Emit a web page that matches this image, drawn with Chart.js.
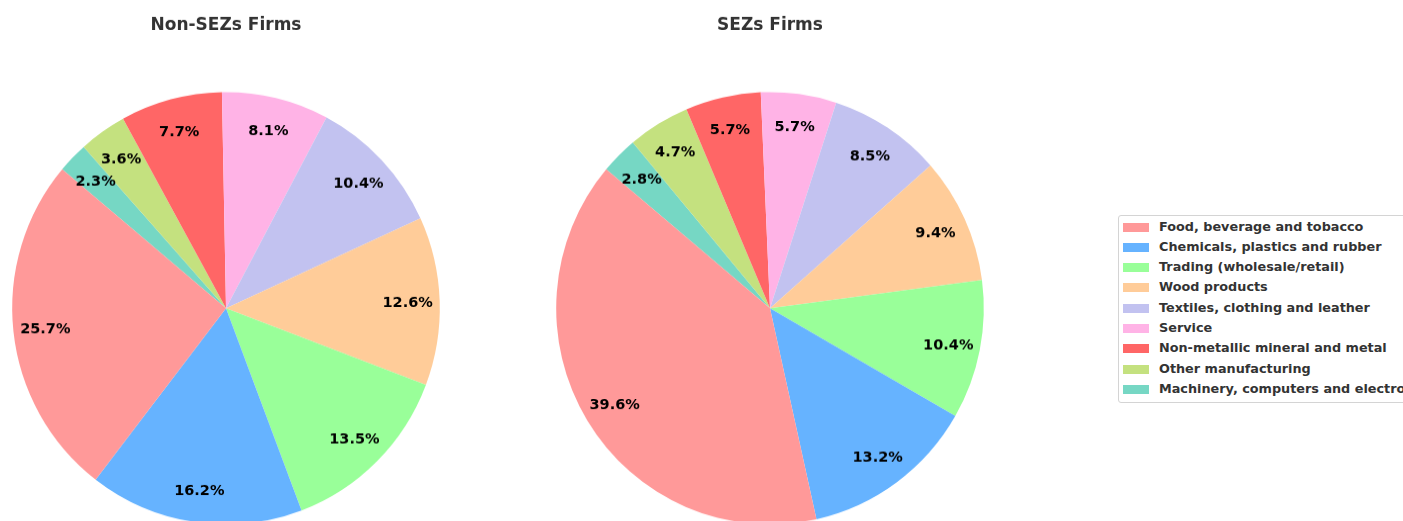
<!DOCTYPE html>
<html>
<head>
<meta charset="utf-8">
<script src="https://cdn.jsdelivr.net/npm/chart.js@4"></script>
<style>
  body { margin: 0; background: #fff; }
  #page { position: relative; width: 1403px; height: 521px; overflow: hidden; font-family: "DejaVu Sans", sans-serif; }
  /* the reference pies are a touch taller than wide, so stretch a little around the centre */
  .pie { position: absolute; top: 0; width: 452px; height: 522px; transform: scaleY(1.011); transform-origin: 50% 308px; }
  #legend {
    position: absolute; left: 1118px; top: 215px; width: 300px;
    border: 1px solid #d4d4d4; border-radius: 3px; padding: 0.5px 0 2.5px 0;
    font-weight: bold; font-size: 12.8px; color: #333;
  }
  .item { height: 20.3px; line-height: 20.3px; white-space: nowrap; }
  .swatch { display: inline-block; width: 26px; height: 9px; margin: 0 10px 0 4px; vertical-align: -1px; }
</style>
</head>
<body>
<div id="page">
  <div class="pie" style="left:0px"><canvas id="nonSezChart"></canvas></div>
  <div class="pie" style="left:544px"><canvas id="sezChart"></canvas></div>
  <div id="legend"></div>
</div>
<script>
// Sectors, in legend order
const categories = [
    "Food, beverage and tobacco",
    "Chemicals, plastics and rubber",
    "Trading (wholesale/retail)",
    "Wood products",
    "Textiles, clothing and leather",
    "Service",
    "Non-metallic mineral and metal",
    "Other manufacturing",
    "Machinery, computers and electronics"
];
// Share of firms in each sector (%)
const nonSezShares = [25.7, 16.2, 13.5, 12.6, 10.4, 8.1, 7.7, 3.6, 2.3];
const sezShares = [39.6, 13.2, 10.4, 9.4, 8.5, 5.7, 5.7, 4.7, 2.8];
const colors = ["#ff9999", "#66b3ff", "#99ff99", "#ffcc99", "#c2c2f0", "#ffb3e6", "#ff6666", "#c4e17f", "#76d7c4"];

// Percent labels drawn inside each slice
const pctLabels = {
    id: "pctLabels",
    afterDatasetsDraw(chart) {
        const ctx = chart.ctx;
        const meta = chart.getDatasetMeta(0);
        const values = chart.data.datasets[0].data;
        ctx.save();
        ctx.fillStyle = "#000";
        ctx.font = "bold 14.5px 'DejaVu Sans'";
        ctx.textAlign = "center";
        ctx.textBaseline = "middle";
        meta.data.forEach(function(arc, i) {
            const p = arc.getProps(["x", "y", "startAngle", "endAngle", "outerRadius"], true);
            const mid = (p.startAngle + p.endAngle) / 2;
            const r = p.outerRadius * 0.85;
            ctx.fillText(values[i].toFixed(1) + "%", p.x + Math.cos(mid) * r, p.y + Math.sin(mid) * r + 1.5);
        });
        ctx.restore();
    }
};

// Chart.js draws clockwise, so feed the slices in reverse to get the counter-clockwise order
function makePie(id, title, shares) {
    const ctx = document.getElementById(id).getContext("2d");
    new Chart(ctx, {
        type: "pie",
        data: {
            labels: categories.slice().reverse(),
            datasets: [{
                data: shares.slice().reverse(),
                backgroundColor: colors.slice().reverse(),
                borderWidth: 0
            }]
        },
        options: {
            responsive: true,
            maintainAspectRatio: false,
            animation: false,
            rotation: -50,
            layout: { padding: { bottom: 0 } },
            plugins: {
                legend: { display: false },
                tooltip: { enabled: false },
                title: {
                    display: true,
                    text: title,
                    color: "#333",
                    font: { family: "DejaVu Sans", size: 17, weight: "bold" },
                    padding: { top: 18, bottom: 56 }
                }
            }
        },
        plugins: [pctLabels]
    });
}

makePie("nonSezChart", "Non-SEZs Firms", nonSezShares);
makePie("sezChart", "SEZs Firms", sezShares);

// Shared legend
const legend = document.getElementById("legend");
categories.forEach(function(name, i) {
    const row = document.createElement("div");
    row.className = "item";
    const sw = document.createElement("span");
    sw.className = "swatch";
    sw.style.background = colors[i];
    row.appendChild(sw);
    row.appendChild(document.createTextNode(name));
    legend.appendChild(row);
});
</script>
</body>
</html>
